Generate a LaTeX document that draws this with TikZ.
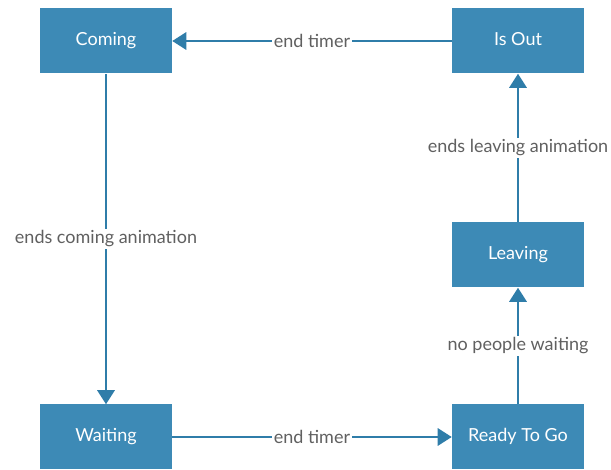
\documentclass[tikz,border=0pt]{standalone}
\usepackage{fontspec}
\setmainfont{Lato}
\usetikzlibrary{arrows.meta}
\definecolor{boxfill}{HTML}{3D8AB6}
\definecolor{edgecol}{HTML}{2F7DA9}
\definecolor{labcol}{HTML}{606060}
\tikzset{
  state/.style={draw=none, fill=boxfill, text=white, minimum width=132*0.75pt, minimum height=65*0.75pt, inner sep=0pt, text height=0.72em, text depth=0pt, font=\fontsize{13.5pt}{15pt}\selectfont},
  conn/.style={draw=edgecol, line width=1.6pt, -{Triangle[length=10.5pt,width=13pt]}},
  lab/.style={fill=white, text=labcol, inner sep=1.5pt, font=\fontsize{13.5pt}{15pt}\selectfont}
}
\begin{document}
\begin{tikzpicture}[x=0.75pt,y=-0.75pt]
\useasboundingbox (0,0) rectangle (611,470);
\node[state] (coming) at (106,41) {Coming};
\node[state] (isout) at (518,41) {Is Out};
\node[state] (leaving) at (518,255) {Leaving};
\node[state] (waiting) at (106,437) {Waiting};
\node[state] (ready) at (518,437) {Ready To Go};
\draw[conn] (isout) -- node[lab] {end timer} (coming);
\draw[conn] (coming) -- node[lab] {ends coming animation} (waiting);
\draw[conn] (waiting) -- node[lab] {end timer} (ready);
\draw[conn] (ready) -- node[lab] {no people waiting} (leaving);
\draw[conn] (leaving) -- node[lab] {ends leaving animation} (isout);
\end{tikzpicture}
\end{document}
